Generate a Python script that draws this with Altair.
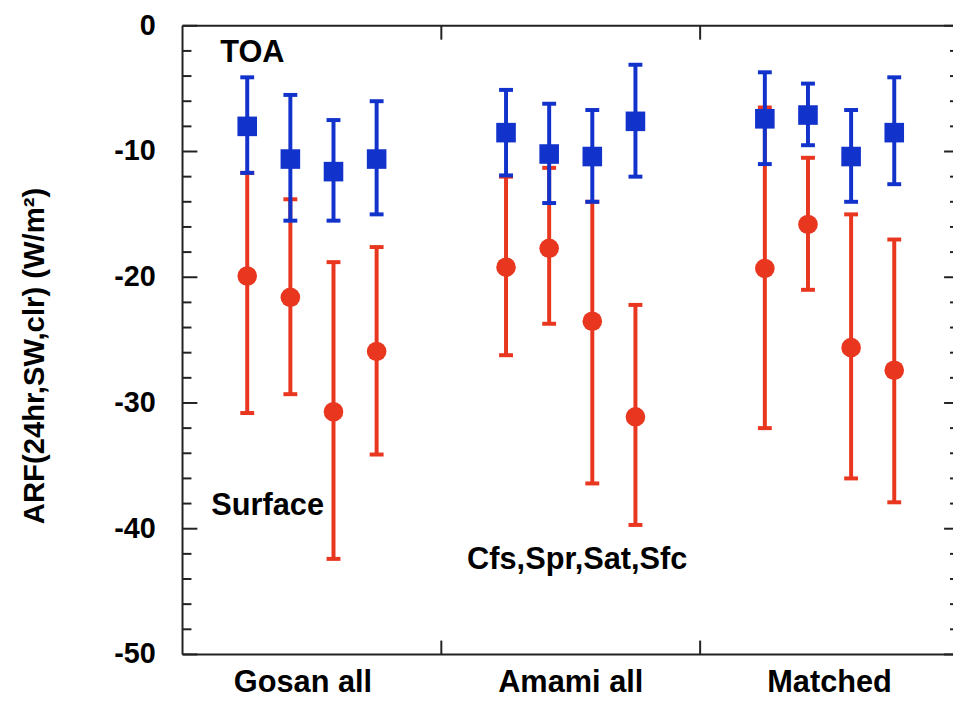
import altair as alt
import pandas as pd

# ---- data ----
groups = ["Gosan all", "Amami all", "Matched"]
cases = ["Cfs", "Spr", "Sat", "Sfc"]

toa_mean = [-8.0, -10.6, -11.6, -10.6, -8.5, -10.2, -10.4, -7.6, -7.4, -7.1, -10.4, -8.5]
toa_hi = [-4.1, -5.5, -7.5, -6.0, -5.1, -6.2, -6.7, -3.1, -3.7, -4.6, -6.7, -4.1]
toa_lo = [-11.7, -15.5, -15.5, -15.0, -11.9, -14.1, -14.0, -12.0, -11.0, -9.5, -14.0, -12.6]

sfc_mean = [-19.9, -21.6, -30.7, -25.9, -19.2, -17.7, -23.5, -31.1, -19.3, -15.8, -25.6, -27.4]
sfc_hi = [-11.7, -13.8, -18.8, -17.6, -12.0, -11.3, -14.0, -22.2, -6.5, -10.5, -15.0, -17.0]
sfc_lo = [-30.8, -29.3, -42.4, -34.1, -26.2, -23.7, -36.4, -39.7, -32.0, -21.0, -36.0, -37.9]

major_ticks = [0, -10, -20, -30, -40, -50]
tick_labels = ["0", "-10", "-20", "-30", "-40", "-50"]
minor_ticks = [v for v in range(-48, 0, 2) if v % 10 != 0]
boundaries = ["Amami all", "Matched"]

ytitle = "ARF(24hr,SW,clr) (W/m²)"

# ---- build tables ----
rows = []
for series, m, lo, hi in [("Surface", sfc_mean, sfc_lo, sfc_hi), ("TOA", toa_mean, toa_lo, toa_hi)]:
    for k in range(len(m)):
        rows.append({"group": groups[k // 4], "case": cases[k % 4], "series": series,
                     "mean": m[k], "lo": lo[k], "hi": hi[k]})
df = pd.DataFrame(rows)
df_sfc = df[df.series == "Surface"]
df_toa = df[df.series == "TOA"]

maj = pd.DataFrame({"v": major_ticks, "lab": tick_labels})
mnr = pd.DataFrame({"v": minor_ticks})
bnd = pd.DataFrame({"group": boundaries})
grp = pd.DataFrame({"group": groups})

FONT = "Liberation Sans"
BLUE = "#1232cc"
RED = "#e8361f"
INK = "#222222"
W = 777          # visible plot width
FULLW = 783      # full (partly cut off) plot width
H = 634
FS = 31

xscale = alt.Scale(domain=groups, range=[0, FULLW], paddingInner=0, paddingOuter=0)
yscale = alt.Scale(domain=[-50, 0], nice=False, zero=False)

XG = alt.X("group:N", scale=xscale, sort=groups, axis=None)
XO = alt.XOffset("case:N", sort=cases, scale=alt.Scale(paddingOuter=1, paddingInner=0))


def series_layers(d, color, shape):
    base = alt.Chart(d).encode(x=XG, xOffset=XO)
    bars = base.mark_rule(color=color, strokeWidth=4).encode(
        y=alt.Y("lo:Q", scale=yscale, axis=None), y2="hi:Q")
    cap_lo = base.mark_tick(color=color, orient="horizontal", size=14, thickness=4, opacity=1).encode(
        y=alt.Y("lo:Q", scale=yscale, axis=None))
    cap_hi = base.mark_tick(color=color, orient="horizontal", size=14, thickness=4, opacity=1).encode(
        y=alt.Y("hi:Q", scale=yscale, axis=None))
    pts = base.mark_point(shape=shape, filled=True, color=color, opacity=1, size=390).encode(
        y=alt.Y("mean:Q", scale=yscale, axis=None))
    return [bars, cap_lo, cap_hi, pts]


# frame: top, bottom and left lines
top_line = alt.Chart(maj).transform_filter("datum.v == 0").mark_rule(
    color=INK, strokeWidth=2).encode(
    y=alt.Y("v:Q", scale=yscale, axis=None), x=alt.value(0), x2=alt.value(FULLW))
bottom_line = alt.Chart(maj).transform_filter("datum.v == -50").mark_rule(
    color=INK, strokeWidth=2).encode(
    y=alt.Y("v:Q", scale=yscale, axis=None), x=alt.value(0), x2=alt.value(FULLW))
left_line = alt.Chart(maj).transform_filter("datum.v == 0").mark_rule(
    color=INK, strokeWidth=2).encode(
    x=alt.value(0), y=alt.Y(datum=0, scale=yscale, axis=None), y2=alt.Y2(datum=-50))


def yticks(d, length):
    left = alt.Chart(d).mark_rule(color=INK, strokeWidth=2).encode(
        y=alt.Y("v:Q", scale=yscale, axis=None), x=alt.value(0), x2=alt.value(length))
    right = alt.Chart(d).mark_rule(color=INK, strokeWidth=2).encode(
        y=alt.Y("v:Q", scale=yscale, axis=None), x=alt.value(FULLW - length), x2=alt.value(FULLW))
    return [left, right]


xb = alt.X("group:N", scale=xscale, sort=groups, axis=None, bandPosition=0)
bticks_top = alt.Chart(bnd).mark_rule(color=INK, strokeWidth=2).encode(
    x=xb, y=alt.value(0), y2=alt.value(14))
bticks_bot = alt.Chart(bnd).mark_rule(color=INK, strokeWidth=2).encode(
    x=xb, y=alt.value(H - 14), y2=alt.value(H))

# tick labels and axis titles as text
ylabels = alt.Chart(maj).mark_text(font=FONT, fontSize=29, fontWeight="bold", color="black",
                                   align="right", baseline="middle").encode(
    y=alt.Y("v:Q", scale=yscale, axis=None), x=alt.value(-27), text="lab:N")


def xlabel_layer(flt, dx):
    return alt.Chart(grp).transform_filter(flt).mark_text(
        font=FONT, fontSize=FS, fontWeight="bold", color="black",
        align="center", baseline="alphabetic", dx=dx).encode(
        x=alt.X("group:N", scale=xscale, sort=groups, axis=None, bandPosition=0.5),
        y=alt.value(H + 38), text="group:N")


xlabels_a = xlabel_layer("datum.group == 'Gosan all'", -9)
xlabels_b = xlabel_layer("datum.group != 'Gosan all'", 0)

ytitle_mark = alt.Chart(grp).transform_filter("datum.group == 'Gosan all'").mark_text(
    text=ytitle, font=FONT, fontSize=29.5, fontWeight="bold", color="black",
    align="center", baseline="middle", angle=270).encode(
    x=alt.value(-149), y=alt.value(333))


def label(text, xpx, yval):
    return alt.Chart(maj).transform_filter("datum.v == 0").mark_text(
        text=text, font=FONT, fontSize=FS, fontWeight="bold", color="black",
        align="left", baseline="middle").encode(
        x=alt.value(xpx), y=alt.Y(datum=yval, scale=yscale, axis=None))


layers = series_layers(df_sfc, RED, "circle")
layers += series_layers(df_toa, BLUE, "square")
layers += [top_line, bottom_line, left_line] + yticks(maj, 15) + yticks(mnr, 9)
layers += [bticks_top, bticks_bot, ylabels, xlabels_a, xlabels_b, ytitle_mark]
layers += [label("TOA", 38, -2.15), label("Surface", 29, -38.2), label("Cfs,Spr,Sat,Sfc", 287, -42.5)]

chart = alt.layer(*layers).properties(
    width=W, height=H,
    autosize=alt.AutoSizeParams(type="none"),
    padding={"left": 176, "top": 15, "right": 0, "bottom": 41},
).configure(background="white", view=alt.ViewConfig(strokeWidth=0))

chart.save("out.html", embed_options={"renderer": "svg", "actions": False})
